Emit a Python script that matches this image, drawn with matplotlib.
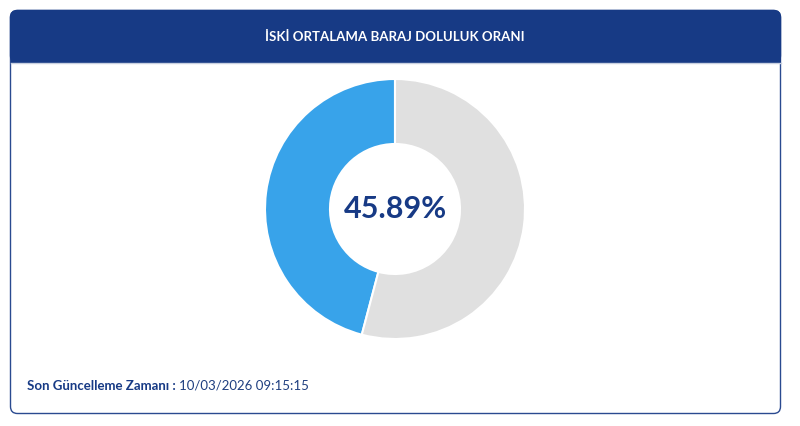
import matplotlib
matplotlib.use("Agg")
import matplotlib.pyplot as plt
from matplotlib.patches import FancyBboxPatch, Rectangle

title = "İSKİ ORTALAMA BARAJ DOLULUK ORANI"
labels = ["Doluluk", "Boş"]
values = [45.89, 54.11]
colors = ["#38a3ea", "#e0e0e0"]
footer_label = "Son Güncelleme Zamanı :"
footer_value = "10/03/2026 09:15:15"

plt.rcParams['font.family'] = ['Lato', 'DejaVu Sans']
fig = plt.figure(figsize=(8, 4.26), dpi=100)
bg = fig.add_axes([0, 0, 1, 1])
bg.set_xlim(0, 800); bg.set_ylim(426, 0); bg.axis('off')
navy = "#173a85"
bg.add_patch(FancyBboxPatch((10.5, 10.5), 770, 403, boxstyle="round,pad=0,rounding_size=7",
                            fc="white", ec="#2a4a90", lw=1))
bg.add_patch(FancyBboxPatch((10.5, 10.5), 770, 52, boxstyle="round,pad=0,rounding_size=7",
                            fc=navy, ec=navy, lw=1))
bg.add_patch(Rectangle((10.5, 40), 770, 22.5, fc=navy, ec="none"))
bg.plot([10.5, 780.5], [62.5, 62.5], color="#c8d0e0", lw=1)
bg.text(395, 37, title, color="white", fontsize=9.5, fontweight="bold", ha="center", va="center")
t = bg.text(27, 386, footer_label + " ", color=navy, fontsize=9.5, fontweight="bold", ha="left", va="center")
fig.canvas.draw()
bb = t.get_window_extent()
bg.text(27 + bb.width, 386, footer_value, color="#1f3f80", fontsize=9.5, ha="left", va="center")

ax = fig.add_axes([(395 - 130) / 800, (217 - 130) / 426, 260 / 800, 260 / 426])
ax.pie(values, colors=colors, startangle=90, counterclock=True, radius=1,
       wedgeprops=dict(width=0.5, edgecolor="white", linewidth=1.5))
ax.set_xlim(-1, 1); ax.set_ylim(-1, 1); ax.set_aspect('equal')
ax.text(0, 0, f"{values[0]:.2f}%", color=navy, fontsize=22, fontweight="bold", ha="center", va="center")
fig.savefig("out.png", dpi=100)
